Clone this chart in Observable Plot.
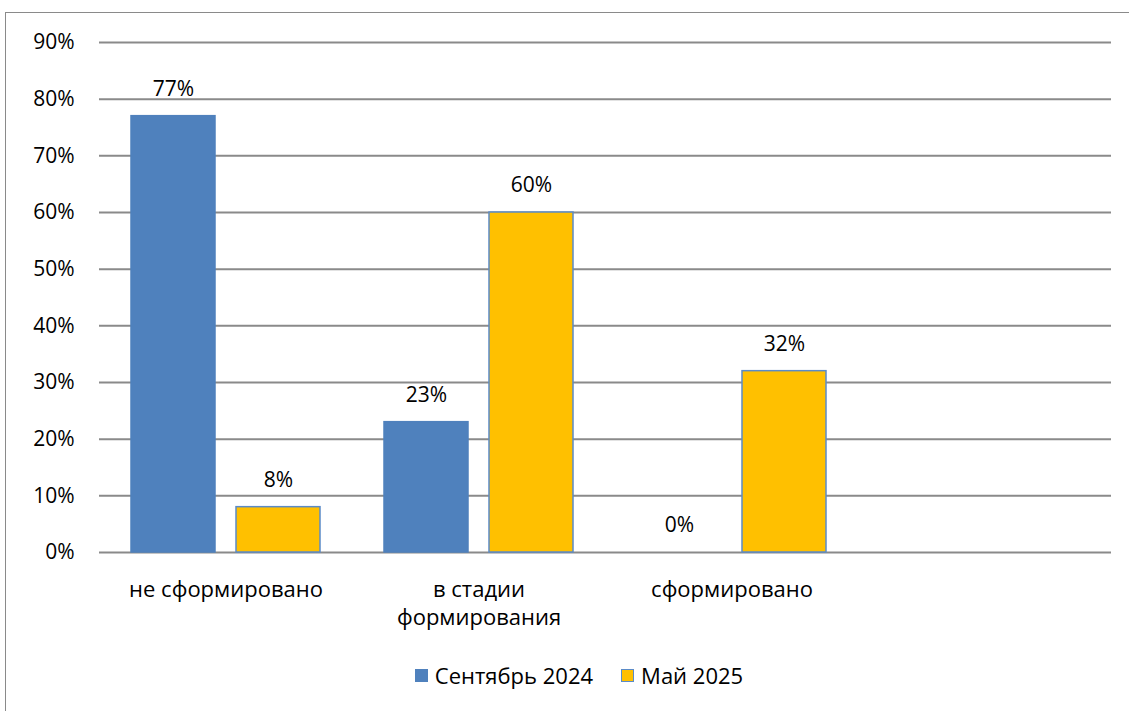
<!DOCTYPE html>
<html>
<head>
<meta charset="utf-8">
<script src="https://cdn.jsdelivr.net/npm/d3@7"></script>
<script src="https://cdn.jsdelivr.net/npm/@observablehq/plot@0.6"></script>
<style>
  html, body { margin: 0; padding: 0; background: #fff; }
  body { width: 1129px; height: 711px; position: relative; overflow: hidden; font-family: "Open Sans", Lato, sans-serif; }
  #frame { position: absolute; left: 5px; top: 12px; width: 1140px; height: 720px; border: 1.5px solid #8a8a8a; box-sizing: border-box; }
  #chart { position: absolute; left: 0; top: 0; }
  #legend { position: absolute; left: 0; width: 1158px; top: 660px; display: flex; justify-content: center; gap: 28px; font-size: 22px; color: #000; }
  #legend .item { display: flex; align-items: center; gap: 7px; }
  #legend .sw { width: 13px; height: 13px; box-sizing: border-box; }
</style>
</head>
<body>
<div id="frame"></div>
<div id="chart"></div>
<div id="legend"></div>
<script>
const categories = ["не сформировано", "в стадии\nформирования", "сформировано", ""];
const series = ["Сентябрь 2024", "Май 2025"];
const sept2024 = [0.77, 0.23, 0.00, null];
const may2025 = [0.08, 0.60, 0.32, null];
const yTicks = [0, 0.1, 0.2, 0.3, 0.4, 0.5, 0.6, 0.7, 0.8, 0.9];
const colors = ["#4F81BD", "#FFC000"];
const strokes = ["#4F81BD", "#5B8BC8"];

const data = [];
categories.forEach((c, i) => {
  data.push({category: c, series: series[0], value: sept2024[i]});
  data.push({category: c, series: series[1], value: may2025[i]});
});

const fmt = d3.format(".0%");

const chart = Plot.plot({
  width: 1129,
  height: 630,
  marginLeft: 98,
  marginRight: 17,
  marginTop: 42,
  marginBottom: 78,
  style: {fontFamily: "'Open Sans', Lato, sans-serif", fontSize: "20px", color: "#000", background: "transparent"},
  fx: {domain: categories, padding: 0, label: null, axis: null},
  x: {domain: series, paddingInner: 0.2, paddingOuter: 0.3, axis: null, label: null},
  y: {domain: [0, 0.9], ticks: yTicks, label: null, axis: null},
  color: {domain: series, range: colors},
  marks: [
    Plot.ruleY(yTicks, {y: d => d, stroke: "#8a8a8a", strokeWidth: 2}),
    Plot.axisY(yTicks, {tickSize: 0, tickPadding: 25, tickFormat: fmt, fontSize: 21, anchor: "left"}),
    Plot.axisFx({anchor: "bottom", tickSize: 0, tickPadding: 24, fontSize: 22, lineHeight: 1.3, tickFormat: d => d, label: null}),
    Plot.barY(data, {fx: "category", x: "series", y: "value", fill: "series", stroke: d => strokes[series.indexOf(d.series)], strokeWidth: 1.5, inset: 0}),
    Plot.text(data, {fx: "category", x: "series", y: "value", text: d => fmt(d.value), dy: -27, fontSize: 21, fill: "#000"})
  ]
});
document.getElementById("chart").appendChild(chart);

const legend = document.getElementById("legend");
series.forEach((s, i) => {
  const item = document.createElement("div");
  item.className = "item";
  const sw = document.createElement("div");
  sw.className = "sw";
  sw.style.background = colors[i];
  if (i === 1) sw.style.border = "1.5px solid " + strokes[i];
  const label = document.createElement("span");
  label.textContent = s;
  item.appendChild(sw);
  item.appendChild(label);
  legend.appendChild(item);
});
</script>
</body>
</html>
